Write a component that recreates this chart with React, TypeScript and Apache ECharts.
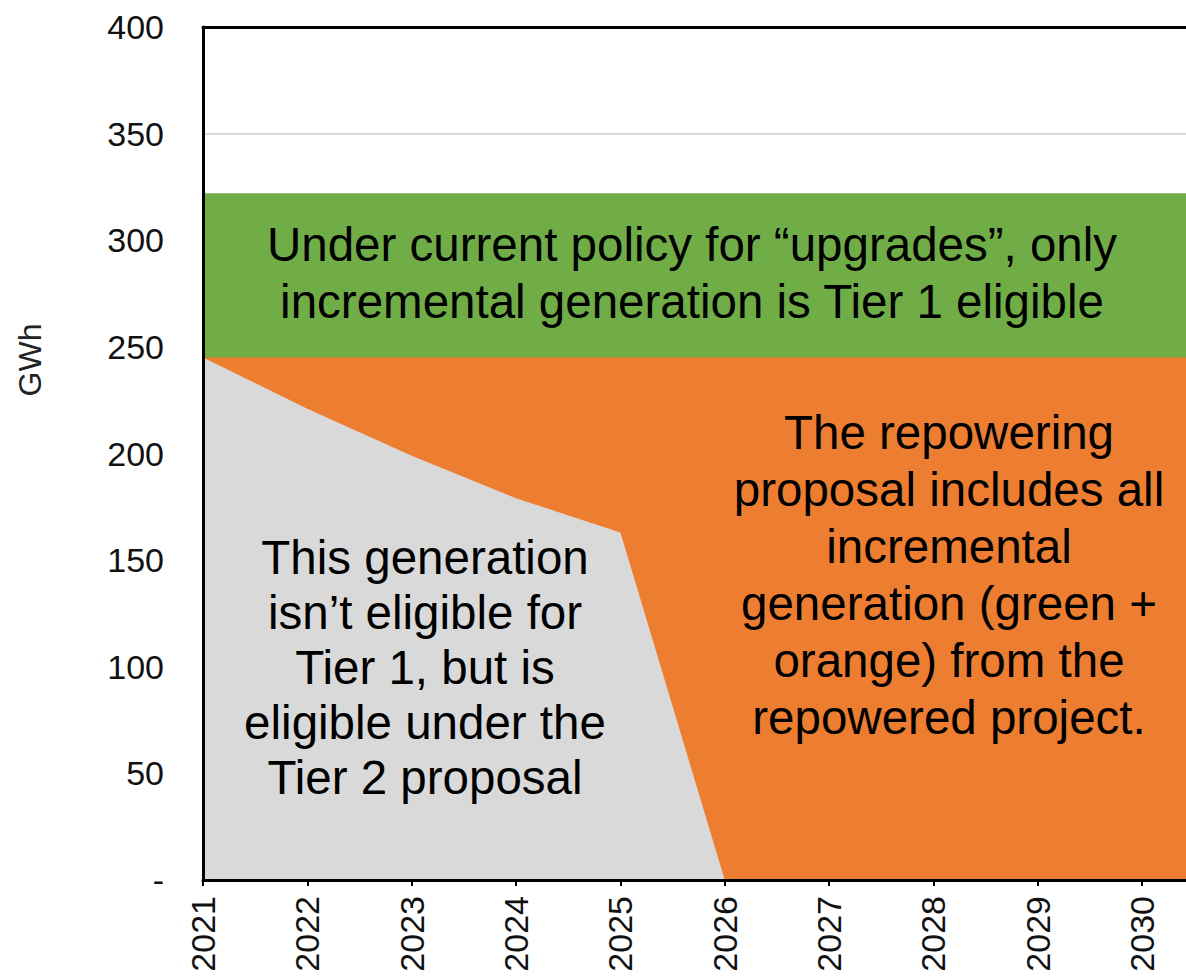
import React, { useEffect, useRef } from "react";
import * as echarts from "echarts";

// Data (GWh per year, layered bottom to top)
const years = [2021, 2022, 2023, 2024, 2025, 2026, 2027, 2028, 2029, 2030, 2031];
const tier2Gray = [245, 221, 199, 179, 163, 0, 0, 0, 0, 0, 0];
const repoweringOrange = [0, 24, 46, 66, 82, 245, 245, 245, 245, 245, 245];
const upgradeGreen = [77, 77, 77, 77, 77, 77, 77, 77, 77, 77, 77];
const yTicks = [0, 50, 100, 150, 200, 250, 300, 350, 400];

const greenText = "Under current policy for \u201cupgrades\u201d, only\nincremental generation is Tier 1 eligible";
const grayText = "This generation\nisn\u2019t eligible for\nTier 1, but is\neligible under the\nTier 2 proposal";
const orangeText = "The repowering\nproposal includes all\nincremental\ngeneration (green +\norange) from the\nrepowered project.";

const FONT = "Arial, 'Liberation Sans', Helvetica, sans-serif";

export default function App() {
  const ref = useRef<HTMLDivElement>(null);
  useEffect(() => {
    if (!ref.current) return;
    const chart = echarts.init(ref.current, undefined, { renderer: "svg" });
    // cumulative tops (stacking done here; each layer filled from 0 and drawn over the one above it)
    const grayTop = tier2Gray.slice();
    const orangeTop = tier2Gray.map((v, i) => v + repoweringOrange[i]);
    const greenTop = orangeTop.map((v, i) => v + upgradeGreen[i]);
    const toPts = (arr: number[]) => years.map((y, i) => [y, arr[i]]);
    const area = (name: string, arr: number[], color: string, z: number) => ({
      name,
      type: "line",
      symbol: "none",
      data: toPts(arr),
      lineStyle: { width: 0, color },
      areaStyle: { color, opacity: 1, origin: "start" },
      z,
      silent: true,
    });
    chart.setOption({
      animation: false,
      backgroundColor: "#ffffff",
      grid: { left: 203, right: 0, top: 27, bottom: 96, containLabel: false },
      xAxis: [
        {
          type: "value",
          min: 2021,
          max: 2030.42,
          interval: 1,
          axisLine: { show: true, lineStyle: { color: "#000", width: 3 } },
          axisTick: { show: true, length: 6, lineStyle: { color: "#000", width: 2 } },
          splitLine: { show: false },
          axisLabel: {
            rotate: 90,
            margin: 16,
            fontSize: 34,
            fontFamily: FONT,
            color: "#111",
            formatter: (v: number) => (Number.isInteger(v) ? String(v) : ""),
            showMaxLabel: false,
          },
          z: 10,
        },
        {
          type: "value",
          position: "top",
          min: 2021,
          max: 2030.42,
          axisLine: { show: true, onZero: false, lineStyle: { color: "#000", width: 3 } },
          axisTick: { show: false },
          axisLabel: { show: false },
          splitLine: { show: false },
          z: 10,
        },
      ],
      yAxis: [
        {
          type: "value",
          min: 0,
          max: 400,
          interval: 50,
          axisLine: { show: false },
          axisTick: { show: false },
          axisLabel: { show: false },
          splitLine: { show: true, lineStyle: { color: "#d9d9d9", width: 2 } },
          z: 0,
        },
        {
          type: "value",
          position: "left",
          min: 0,
          max: 400,
          interval: 50,
          axisLine: { show: true, onZero: false, lineStyle: { color: "#000", width: 3 } },
          axisTick: { show: false },
          splitLine: { show: false },
          axisLabel: {
            margin: 39,
            fontSize: 34,
            fontFamily: FONT,
            color: "#111",
            formatter: (v: number) => (yTicks.includes(v) ? (v === 0 ? "-" : String(v)) : ""),
          },
          z: 10,
        },
      ],
      series: [
        area("Upgrade incremental (Tier 1)", greenTop, "#70ad47", 2),
        area("Repowering incremental", orangeTop, "#ed7d31", 3),
        area("Tier 2 eligible", grayTop, "#d9d9d9", 4),
      ],
      graphic: [
        {
          type: "text",
          x: 30,
          y: 360,
          rotation: Math.PI / 2,
          style: {
            text: "GWh",
            fontSize: 32,
            fontFamily: FONT,
            fill: "#222",
            align: "center",
            verticalAlign: "middle",
          },
          z: 20,
        },
        {
          type: "text",
          x: 692,
          y: 273,
          style: {
            text: greenText,
            fontSize: 47.5,
            lineHeight: 57,
            fontFamily: FONT,
            fill: "#000",
            align: "center",
            verticalAlign: "middle",
          },
          z: 20,
        },
        {
          type: "text",
          x: 425,
          y: 667,
          style: {
            text: grayText,
            fontSize: 47.5,
            lineHeight: 55,
            fontFamily: FONT,
            fill: "#000",
            align: "center",
            verticalAlign: "middle",
          },
          z: 20,
        },
        {
          type: "text",
          x: 949,
          y: 575,
          style: {
            text: orangeText,
            fontSize: 47.5,
            lineHeight: 57,
            fontFamily: FONT,
            fill: "#000",
            align: "center",
            verticalAlign: "middle",
          },
          z: 20,
        },
      ],
    });
    return () => chart.dispose();
  }, []);
  return (
    <div
      ref={ref}
      style={{ position: "fixed", left: 0, top: 0, width: 1186, height: 976 }}
    />
  );
}
